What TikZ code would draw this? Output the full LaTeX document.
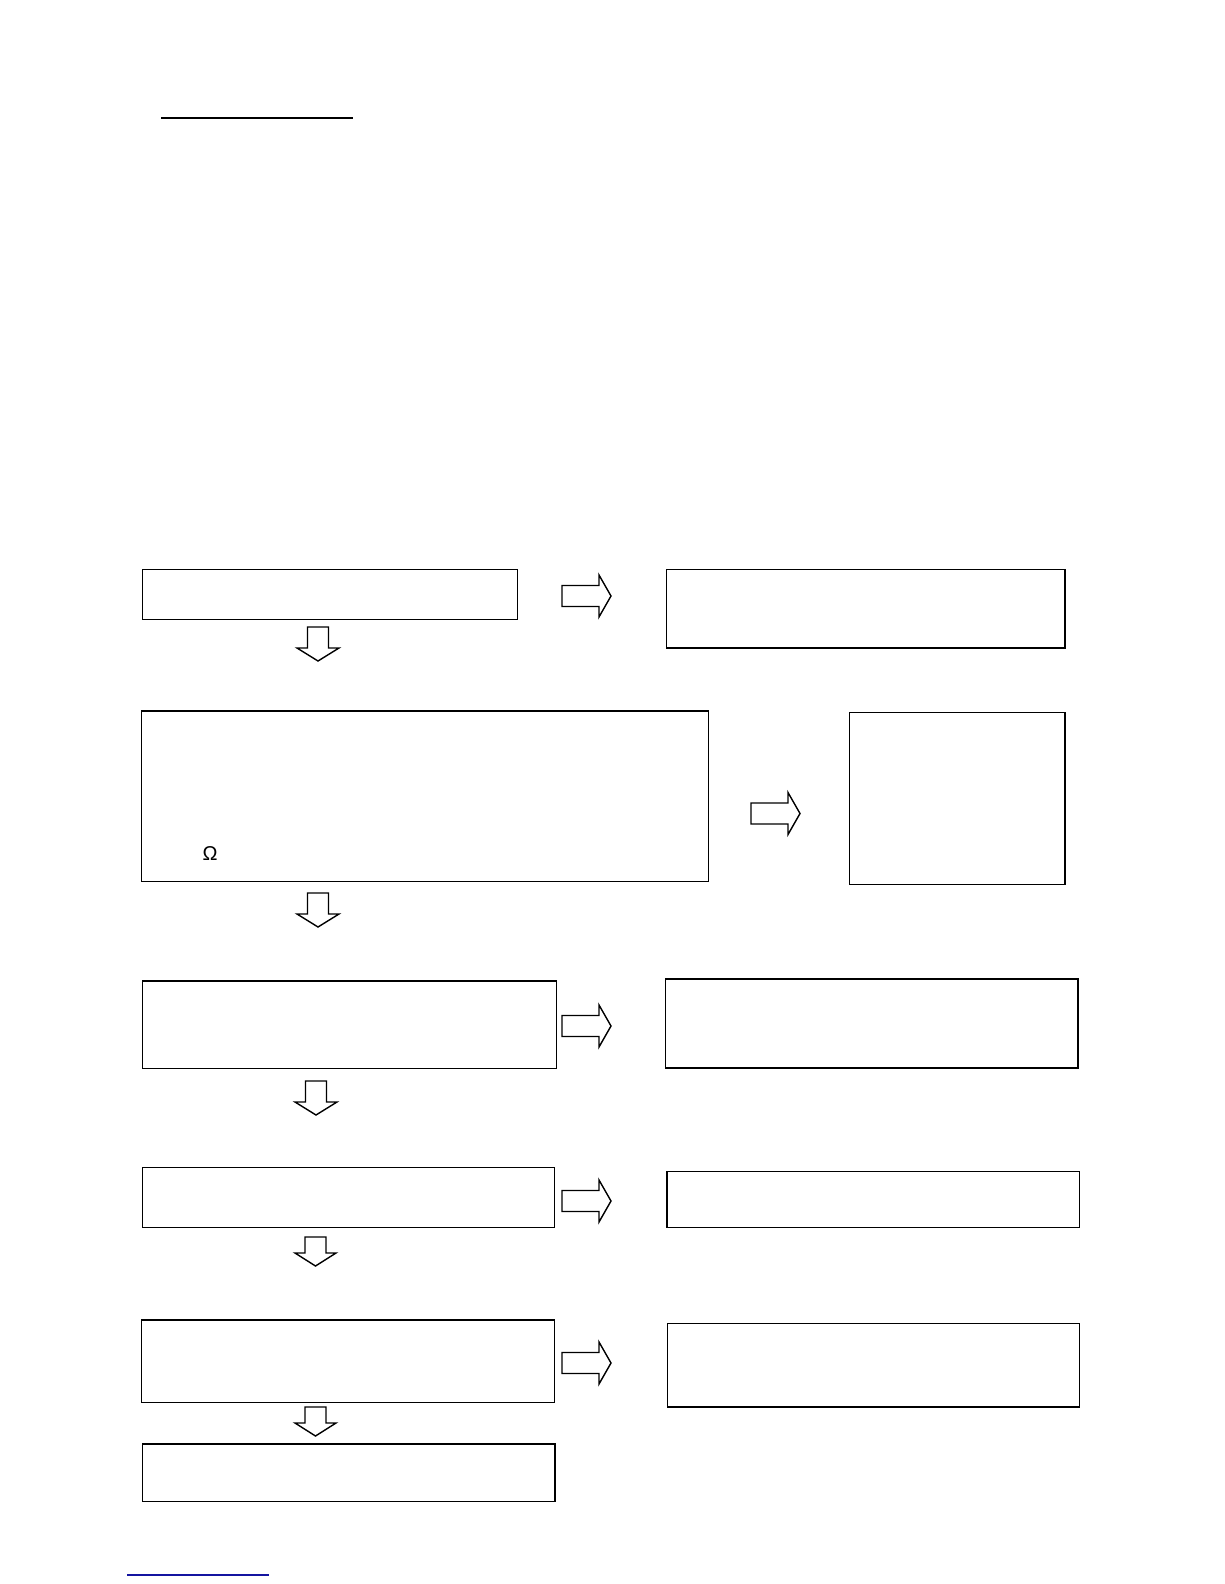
\documentclass[tikz,border=0pt]{standalone}
\usepackage{fontspec}
\setmainfont{Liberation Sans}
\begin{document}
\begin{tikzpicture}[x=1pt,y=-1pt,
  box/.style={draw=black,line width=1.3pt,rectangle,inner sep=0pt,anchor=north west,fill=none},
  thickedge/.style={draw=black,line width=2.2pt},
  blockarrow/.style={draw=black,line width=1.4pt,line join=miter,fill=white},
  rarr/.pic={\draw[blockarrow] (0,-10.5) -- (37,-10.5) -- (37,-21) -- (49,0) -- (37,21) -- (37,10.5) -- (0,10.5) -- cycle;},
  darr/.pic={\draw[blockarrow] (-10.5,0) -- (10.5,0) -- (10.5,21) -- (21,21) -- (0,34) -- (-21,21) -- (-10.5,21) -- cycle;},
  darrs/.pic={\draw[blockarrow] (-10.5,0) -- (10.5,0) -- (10.5,16) -- (20.5,16) -- (0,29) -- (-20.5,16) -- (-10.5,16) -- cycle;}
]
\fill[white] (0,0) rectangle (1224,1584);
\useasboundingbox (0,0) rectangle (1224,1584);

% top underline
\coordinate (ul1) at (161,118);
\coordinate (ul2) at (353,118);
\draw[line width=1.4pt] (ul1) -- (ul2);

% boxes
\node[box,minimum width=375pt,minimum height=50pt] (b1l) at (142,569) {};
\node[box,minimum width=398pt,minimum height=78pt] (b1r) at (666,569) {};
\node[box,minimum width=567pt,minimum height=170pt] (b2l) at (141,711) {};
\node[box,minimum width=215pt,minimum height=172pt] (b2r) at (849,712) {};
\node[box,minimum width=414pt,minimum height=87pt] (b3l) at (142,981) {};
\node[box,minimum width=412pt,minimum height=88pt] (b3r) at (665,979) {};
\node[box,minimum width=412pt,minimum height=60pt] (b4l) at (142,1167) {};
\node[box,minimum width=412pt,minimum height=56pt] (b4r) at (667,1171) {};
\node[box,minimum width=413pt,minimum height=82pt] (b5l) at (141,1320) {};
\node[box,minimum width=412pt,minimum height=83pt] (b5r) at (667,1323) {};
\node[box,minimum width=412pt,minimum height=57pt] (b6) at (142,1444) {};

% heavier edges
\draw[thickedge] (b1r.north east) -- (b1r.south east) -- (b1r.south west);
\draw[thickedge] (b2l.north west) -- (b2l.north east);
\draw[thickedge] (b2r.north east) -- (b2r.south east);
\draw[thickedge] (b3l.north west) -- (b3l.north east);
\draw[thickedge] (b3r.north west) -- (b3r.north east) -- (b3r.south east) -- (b3r.south west);
\draw[thickedge] (b4r.north west) -- (b4r.south west);
\draw[thickedge] (b5l.north west) -- (b5l.north east);
\draw[thickedge] (b5r.south west) -- (b5r.south east);
\draw[thickedge] (b6.north west) -- (b6.north east) -- (b6.south east);

% Omega
\node[font=\fontsize{20}{24}\selectfont] (om) at (210,854) {Ω};

% right block arrows
\pic (ra1) at (562,596) {rarr};
\pic (ra2) at (751,813.5) {rarr};
\pic (ra3) at (562,1026) {rarr};
\pic (ra4) at (562,1201) {rarr};
\pic (ra5) at (562,1363) {rarr};

% down block arrows
\pic (da1) at (318,627) {darr};
\pic (da2) at (318,893) {darr};
\pic (da3) at (316,1081) {darr};
\pic (da4) at (315.5,1237) {darrs};
\pic (da5) at (315.5,1407) {darrs};

% bottom link underline
\coordinate (bl1) at (127,1575);
\coordinate (bl2) at (269,1575);
\draw[line width=1.4pt,draw={rgb,255:red,20;green,20;blue,160}] (bl1) -- (bl2);
\end{tikzpicture}
\end{document}
